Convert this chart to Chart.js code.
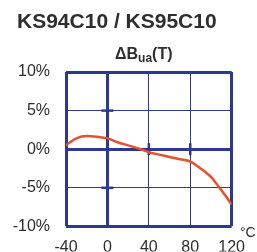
<!DOCTYPE html>
<html><head><meta charset="utf-8">
<script src="https://cdn.jsdelivr.net/npm/chart.js@4/dist/chart.umd.min.js"></script>
<style>html,body{margin:0;padding:0;background:#fff;overflow:hidden}</style>
</head><body>
<canvas id="c" width="257" height="252"></canvas>
<script>
const chartTitle = 'KS94C10 / KS95C10';
const unitLabel = '°C';
const temperatures = [-40,-30,-20,-10,0,10,20,30,40,50,60,70,80,90,100,105,110,115,120];
const deviation = [0.5,1.4,1.7,1.6,1.4,0.9,0.5,0.1,-0.4,-0.7,-1.0,-1.3,-1.6,-2.5,-3.6,-4.4,-5.3,-6.2,-7.2];
const xTicks = [-40,0,40,80,120];
const yTicks = [-10,-5,0,5,10];
const axisMarksY = [-5,5];   // small marks on the 0°C line
const axisMarksX = [40,80];  // small marks on the 0% line

const BLUE = '#2b3990';
const TEXT = '#2e2e2e';
const FONT = '"Liberation Sans", Arial, sans-serif';

const overlay = {
  id: 'overlay',
  beforeDatasetsDraw(chart) {
    const {ctx, scales: {x, y}} = chart;
    ctx.save();
    ctx.fillStyle = BLUE;
    const x0 = x.getPixelForValue(0);
    axisMarksY.forEach(v => {
      const py = y.getPixelForValue(v);
      ctx.fillRect(x0 - 6, py - 1.25, 12, 2.5);
    });
    const y0 = y.getPixelForValue(0);
    axisMarksX.forEach(v => {
      const px = x.getPixelForValue(v);
      ctx.fillRect(px - 1.25, y0 - 6, 2.5, 12);
    });
    ctx.restore();
  },
  afterDraw(chart) {
    const {ctx} = chart;
    ctx.save();
    ctx.fillStyle = TEXT;
    ctx.textBaseline = 'alphabetic';
    ctx.textAlign = 'left';
    ctx.font = 'bold 21px ' + FONT;
    ctx.fillText(chartTitle, 17, 28);
    // subtitle ΔB_ua(T)
    let sx = 115;
    ctx.font = 'bold 16px ' + FONT;
    ctx.fillText('ΔB', sx, 58.5);
    sx += ctx.measureText('ΔB').width;
    ctx.font = 'bold 12px ' + FONT;
    ctx.fillText('ua', sx, 62);
    sx += ctx.measureText('ua').width;
    ctx.font = 'bold 16px ' + FONT;
    ctx.fillText('(T)', sx, 58.5);
    // unit
    ctx.font = '14px ' + FONT;
    ctx.fillText(unitLabel, 240, 237);
    ctx.restore();
  }
};

new Chart(document.getElementById('c'), {
  type: 'line',
  data: {
    datasets: [{
      data: temperatures.map((t, i) => ({x: t, y: deviation[i]})),
      borderColor: '#e8502b',
      borderWidth: 2.5,
      pointRadius: 0,
      cubicInterpolationMode: 'monotone',
      fill: false
    }]
  },
  options: {
    responsive: false,
    animation: false,
    devicePixelRatio: 1,
    layout: {padding: {top: 72, right: 21, left: 0, bottom: 0}},
    plugins: {legend: {display: false}, tooltip: {enabled: false}, title: {display: false}},
    scales: {
      x: {
        type: 'linear', min: -40, max: 120,
        afterBuildTicks: s => { s.ticks = xTicks.map(v => ({value: v})); },
        afterFit: s => { s.height = 25; },
        border: {display: false},
        grid: {
          drawTicks: false,
          color: BLUE,
          lineWidth: c => (c.tick && [-40, 0, 120].includes(c.tick.value)) ? 3 : 1
        },
        ticks: {padding: 12, color: TEXT, font: {size: 16, family: FONT}, maxRotation: 0, autoSkip: false}
      },
      y: {
        min: -10, max: 10,
        afterBuildTicks: s => { s.ticks = yTicks.map(v => ({value: v})); },
        afterFit: s => { s.width = 66; },
        border: {display: false},
        grid: {
          drawTicks: false,
          color: BLUE,
          lineWidth: c => (c.tick && [-10, 0, 10].includes(c.tick.value)) ? 3 : 1
        },
        ticks: {padding: 16, color: TEXT, font: {size: 16, family: FONT}, callback: v => v + '%'}
      }
    }
  },
  plugins: [overlay]
});
</script>
</body></html>
